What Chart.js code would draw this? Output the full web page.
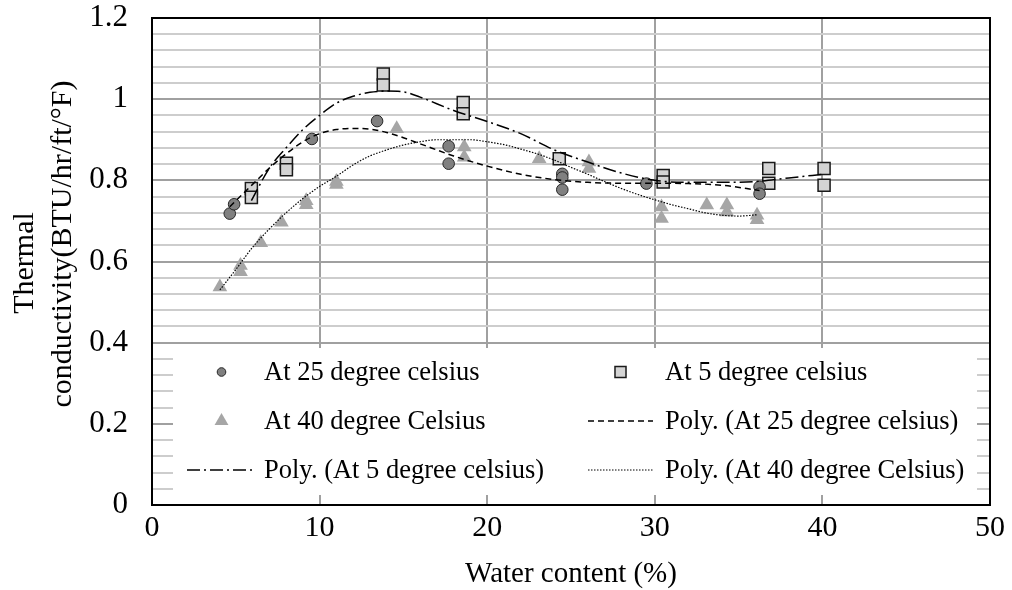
<!DOCTYPE html>
<html>
<head>
<meta charset="utf-8">
<script src="https://cdn.jsdelivr.net/npm/chart.js@4.4.1/dist/chart.umd.min.js"></script>
<style>
  html, body { margin: 0; padding: 0; background: #fff; }
  #wrap { width: 1012px; height: 590px; }
</style>
</head>
<body>
<div id="wrap"><canvas id="chart" width="1012" height="590"></canvas></div>
<script>
// Measured points (water content %, conductivity)
const at25X = [4.64, 4.9, 9.54, 13.43, 17.7, 17.7, 24.48, 24.48, 24.48, 29.5, 36.25, 36.25];
const at25Y = [0.718, 0.741, 0.902, 0.946, 0.884, 0.841, 0.816, 0.807, 0.777, 0.792, 0.784, 0.767];

const at5X = [5.93, 5.93, 8.02, 8.02, 13.8, 13.8, 18.57, 18.57, 24.3, 30.5, 30.5, 36.8, 36.8, 40.1, 40.1];
const at5Y = [0.78, 0.758, 0.842, 0.826, 1.062, 1.035, 0.992, 0.964, 0.853, 0.812, 0.796, 0.829, 0.793, 0.829, 0.788];

const at40X = [4.05, 5.28, 5.28, 6.49, 7.72, 9.2, 9.2, 11.0, 11.0, 14.6, 18.63, 18.63, 23.1, 26.07, 26.07, 30.4, 30.4, 33.1, 34.3, 34.3, 36.1, 36.1];
const at40Y = [0.537, 0.59, 0.575, 0.646, 0.697, 0.75, 0.74, 0.797, 0.79, 0.927, 0.882, 0.857, 0.853, 0.845, 0.829, 0.734, 0.706, 0.739, 0.739, 0.722, 0.714, 0.703];

// Trendlines
const poly25X = [4.64, 6, 7, 8, 9, 10, 11, 12, 13, 14, 15, 16, 18, 20, 22, 24, 26, 28, 30, 32, 34, 36.25];
const poly25Y = [0.735, 0.79, 0.83, 0.865, 0.895, 0.915, 0.925, 0.928, 0.926, 0.918, 0.905, 0.89, 0.86, 0.835, 0.815, 0.802, 0.795, 0.793, 0.793, 0.792, 0.788, 0.775];

const poly5X = [5.93, 7, 8, 9, 10, 11, 12, 13, 14, 15, 16, 18, 20, 22, 24, 26, 28, 30, 32, 34, 36, 38, 40.1];
const poly5Y = [0.75, 0.83, 0.88, 0.925, 0.96, 0.99, 1.007, 1.017, 1.02, 1.018, 1.005, 0.972, 0.945, 0.915, 0.875, 0.845, 0.818, 0.8, 0.795, 0.795, 0.797, 0.806, 0.815];

const poly40X = [4.05, 5, 6, 7, 8, 9, 10, 11, 12, 13, 14, 15, 16, 17, 18, 19, 20, 21, 22, 23, 24, 25, 26, 27, 28, 29, 30, 31, 32, 33, 34, 35, 36.1];
const poly40Y = [0.53, 0.58, 0.635, 0.68, 0.72, 0.755, 0.785, 0.81, 0.838, 0.86, 0.875, 0.887, 0.895, 0.9, 0.9, 0.9, 0.895, 0.888, 0.877, 0.865, 0.85, 0.832, 0.815, 0.797, 0.78, 0.765, 0.752, 0.74, 0.73, 0.72, 0.714, 0.712, 0.715];

const xTicks = [0, 10, 20, 30, 40, 50];
const yTicks = [0, 0.2, 0.4, 0.6, 0.8, 1, 1.2];

const FONT = "'Liberation Serif', 'Times New Roman', serif";
Chart.defaults.font.family = FONT;
Chart.defaults.color = '#000';

const pts = (xs, ys) => xs.map((x, i) => ({ x: x, y: ys[i] }));

const series = {
    c25: { label: 'At 25 degree celsius', style: 'circle', radius: 5.8, fill: '#808080', border: '#262626', bw: 1 },
    s5: { label: 'At 5 degree celsius', style: 'rect', radius: 8.5, fill: '#d4d4d4', border: '#1a1a1a', bw: 1.5 },
    t40: { label: 'At 40 degree Celsius', style: 'triangle', radius: 8.5, fill: '#a6a6a6', border: '#a6a6a6', bw: 0 }
};

function markerSet(s, data) {
    return {
        label: s.label,
        data: data,
        showLine: false,
        pointStyle: s.style,
        pointRadius: s.radius,
        pointHoverRadius: s.radius,
        backgroundColor: s.fill,
        borderColor: s.border,
        borderWidth: s.bw,
        order: 2
    };
}

function trendSet(label, data, dash, width) {
    return {
        label: label,
        data: data,
        showLine: true,
        pointRadius: 0,
        borderColor: '#000',
        borderWidth: width,
        borderDash: dash,
        cubicInterpolationMode: 'monotone',
        fill: false,
        order: 1
    };
}

const DASH25 = [6, 4];
const DASH5 = [13, 4, 2, 4];
const DASH40 = [1.5, 1.5];

// Box around the plot + in-plot legend + axis titles
const decorPlugin = {
    id: 'decor',
    afterDatasetsDraw(chart) {
        const ctx = chart.ctx;
        const a = chart.chartArea;
        ctx.save();

        // legend box
        ctx.fillStyle = '#fff';
        ctx.fillRect(173, 348, 804, 147);

        const rows = [372, 421, 470];
        const items = [
            { col: 0, row: 0, kind: 'pt', s: series.c25, r: 4.3 },
            { col: 1, row: 0, kind: 'pt', s: series.s5, r: 7.8 },
            { col: 0, row: 1, kind: 'pt', s: series.t40, r: 8 },
            { col: 1, row: 1, kind: 'line', label: 'Poly. (At 25 degree celsius)', dash: DASH25, w: 1.5 },
            { col: 0, row: 2, kind: 'line', label: 'Poly. (At 5 degree celsius)', dash: DASH5, w: 1.5 },
            { col: 1, row: 2, kind: 'line', label: 'Poly. (At 40 degree Celsius)', dash: DASH40, w: 1 }
        ];
        const cols = [{ x0: 187, x1: 256, tx: 264 }, { x0: 588, x1: 653, tx: 665 }];

        ctx.font = '26.5px ' + FONT;
        ctx.textBaseline = 'middle';
        ctx.textAlign = 'left';
        items.forEach(it => {
            const c = cols[it.col];
            const y = rows[it.row];
            const cx = (c.x0 + c.x1) / 2;
            if (it.kind === 'pt') {
                ctx.fillStyle = it.s.fill;
                ctx.strokeStyle = it.s.border;
                ctx.lineWidth = it.s.bw;
                Chart.helpers.drawPoint(ctx, { pointStyle: it.s.style, radius: it.r, borderWidth: it.s.bw }, cx, y);
                ctx.fillStyle = '#000';
                ctx.fillText(it.s.label, c.tx, y + 1);
            } else {
                ctx.strokeStyle = '#000';
                ctx.lineWidth = it.w;
                ctx.setLineDash(it.dash);
                ctx.beginPath();
                ctx.moveTo(c.x0, y);
                ctx.lineTo(c.x1, y);
                ctx.stroke();
                ctx.setLineDash([]);
                ctx.fillStyle = '#000';
                ctx.fillText(it.label, c.tx, y + 1);
            }
        });

        // plot frame
        ctx.strokeStyle = '#000';
        ctx.lineWidth = 2;
        ctx.strokeRect(a.left, a.top, a.right - a.left, a.bottom - a.top);

        // axis titles
        ctx.fillStyle = '#000';
        ctx.textAlign = 'center';
        ctx.font = '29px ' + FONT;
        ctx.fillText('Water content (%)', (a.left + a.right) / 2, 574);

        ctx.font = '30px ' + FONT;
        ctx.save();
        ctx.translate(25, 263);
        ctx.rotate(-Math.PI / 2);
        ctx.fillText('Thermal', 0, 0);
        ctx.restore();
        ctx.save();
        ctx.translate(63, 244);
        ctx.rotate(-Math.PI / 2);
        ctx.fillText('conductivity(BTU/hr/ft/\u00B0F)', 0, 0);
        ctx.restore();

        ctx.restore();
    }
};

const isMajor = v => yTicks.some(t => Math.abs(t - v) < 1e-6);

new Chart(document.getElementById('chart'), {
    type: 'scatter',
    data: {
        datasets: [
            markerSet(series.c25, pts(at25X, at25Y)),
            markerSet(series.s5, pts(at5X, at5Y)),
            markerSet(series.t40, pts(at40X, at40Y)),
            trendSet('Poly. (At 25 degree celsius)', pts(poly25X, poly25Y), DASH25, 1.5),
            trendSet('Poly. (At 5 degree celsius)', pts(poly5X, poly5Y), DASH5, 1.5),
            trendSet('Poly. (At 40 degree Celsius)', pts(poly40X, poly40Y), DASH40, 1.2)
        ]
    },
    options: {
        responsive: false,
        animation: false,
        layout: { padding: { top: 18, right: 22, left: 0, bottom: 0 } },
        plugins: {
            legend: { display: false },
            tooltip: { enabled: false }
        },
        scales: {
            x: {
                type: 'linear',
                min: xTicks[0],
                max: xTicks[xTicks.length - 1],
                afterFit: s => { s.height = 85; s.paddingLeft = 0; s.paddingRight = 0; },
                afterBuildTicks: s => { s.ticks = xTicks.map(v => ({ value: v })); },
                ticks: { font: { size: 30 }, padding: 5, color: '#000', maxRotation: 0 },
                grid: { color: '#a0a0a0', lineWidth: 2, drawTicks: false },
                border: { display: false }
            },
            y: {
                min: 0,
                max: 1.2,
                afterFit: s => { s.width = 152; s.paddingTop = 0; s.paddingBottom = 0; },
                ticks: {
                    stepSize: 0.04,
                    autoSkip: false,
                    font: { size: 31 },
                    padding: 24,
                    color: '#000',
                    callback: v => isMajor(v) ? String(Math.round(v * 10) / 10) : ''
                },
                grid: {
                    drawTicks: false,
                    lineWidth: 2,
                    color: c => isMajor(c.tick.value) ? '#a0a0a0' : '#cdcdcd'
                },
                border: { display: false }
            }
        }
    },
    plugins: [decorPlugin]
});
</script>
</body>
</html>
